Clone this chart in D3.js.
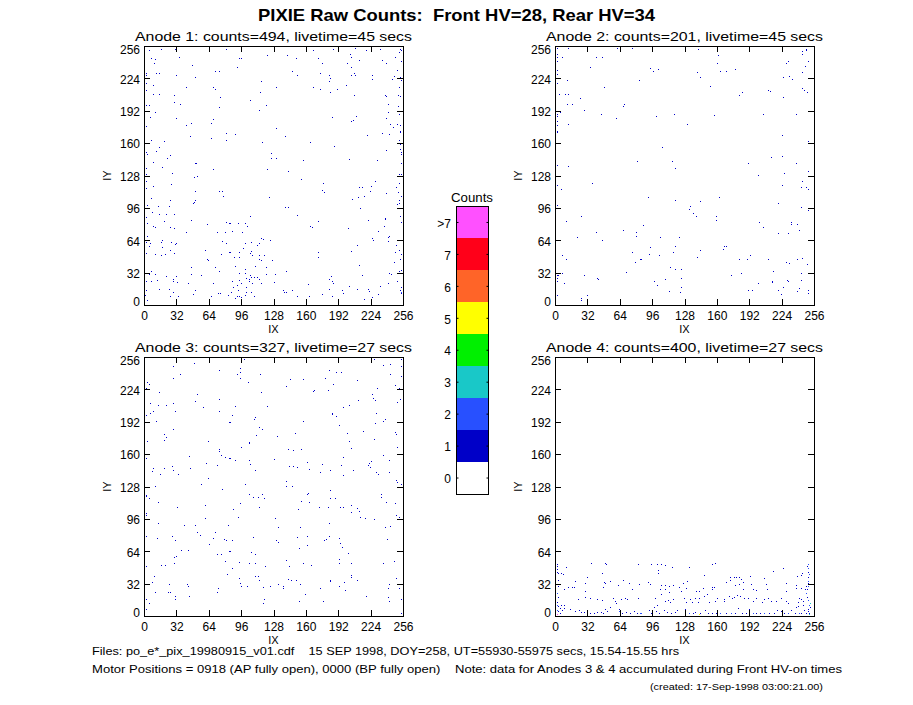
<!DOCTYPE html>
<html><head><meta charset="utf-8">
<script src="https://cdn.jsdelivr.net/npm/d3@7"></script>
<style>
html,body{margin:0;padding:0;background:#fff;}
svg{display:block;}
text{font-family:"Liberation Sans",Arial,sans-serif;fill:#000;}
</style></head><body>
<svg id="chart" width="913" height="705"></svg>
<script>
const mainTitle = "PIXIE Raw Counts:  Front HV=28, Rear HV=34";
const panelTitles = [
  "Anode 1: counts=494, livetime=45 secs",
  "Anode 2: counts=201, livetime=45 secs",
  "Anode 3: counts=327, livetime=27 secs",
  "Anode 4: counts=400, livetime=27 secs"
];
const axisTicks = [0, 32, 64, 96, 128, 160, 192, 224, 256];
const colorLevels = [0, 1, 2, 3, 4, 5, 6, 7, 8];
const colorLabels = ["0", "1", "2", "3", "4", "5", "6", "7", ">7"];
const colorValues = ["#ffffff", "#0000c8", "#2850ff", "#19c8c8", "#00f000", "#ffff00", "#ff6428", "#ff0019", "#ff50ff"];
const footerLines = [
  "Files: po_e*_pix_19980915_v01.cdf    15 SEP 1998, DOY=258, UT=55930-55975 secs, 15.54-15.55 hrs",
  "Motor Positions = 0918 (AP fully open), 0000 (BP fully open)    Note: data for Anodes 3 & 4 accumulated during Front HV-on times",
  "(created: 17-Sep-1998 03:00:21.00)"
];

// events per pixel: [IX, IY] (1 count) or [IX, IY, counts]
const anode1 = [[5,252],[17,253],[31,253],[82,253],[168,252],[187,253],[209,254],[220,252],[234,253],[254,253],[255,252],
[35,245],[7,244],[11,243],[94,244],[96,244],[122,247],[142,247],[151,244],[172,244],[205,245],[213,242],[236,242],[204,248],[249,245],[253,250],[255,241],
[10,239],[48,237],[92,235],[176,239],[201,239],[240,239],[205,235],
[12,229],[2,229],[15,229],[71,231],[75,231],[147,231],[152,227],[174,229],[183,227],[184,224],[205,227],[208,229],[209,227],[226,227],[226,223],[246,223],[248,226],[251,232],[254,225],[255,222],[2,227],[32,227],[51,225],
[116,221],[183,221],[200,217],[168,215],[174,213],[191,213],[131,215],[69,215],[71,213],[42,215],[9,217],[2,219],[253,215],
[2,212],[15,208],[9,208],[30,207],[76,205],[115,210],[184,210],[208,207],[239,207],[240,206],[252,207],[254,206],
[30,200],[36,198],[2,197],[5,197],[105,202],[121,197],[75,195],[114,192],[242,198],[252,196],
[11,190],[6,185],[32,184],[69,183],[186,185],[210,186],[205,181],[207,182],[242,190],[240,184],[253,188],
[42,177],[47,179],[67,179],[2,176],[244,178],[251,178],[254,177],[247,175],[254,171],
[82,170],[90,169],[131,174],[140,167],[221,168],[236,170],[243,169],[46,167],[67,165],[82,163],[7,163],[20,162],[117,161],[165,161],[188,157],[253,163],[254,159],
[15,156],[2,151],[3,149],[12,152],[240,153],[254,154],[255,151],[255,149],[26,148],[126,150],
[23,145],[126,145],[131,145],[158,143],[203,144],[231,143],[51,140],[52,140],[9,141],[255,140],
[18,136],[2,135],[69,134],[122,134],[143,132],[2,129],[28,130],[253,129],[255,129],
[50,126],[53,127],[156,124],[229,122],[2,122],[27,119],[177,120],[213,116],[216,116],[225,117],[250,116],[253,120],[2,115],[9,117],[75,112],[78,112],[51,112],[176,113],[178,111],[224,112],[240,110],[252,111],
[79,107],[124,106],[7,105],[26,103],[51,103],[50,101],[49,100],[206,104],[212,106],[218,107],[253,103],[255,107],[3,98],[25,97],[14,97],[140,96],[143,96],[214,95],[251,99],[253,100],
[8,91],[15,89],[22,89],[30,89],[152,88],[47,84],[2,86],[20,83],[105,87],[82,82],[85,81],[93,81],[100,81],[102,78],[63,80],[172,83],[165,78],[167,77],[222,84],[239,85],[254,87],[255,82],[3,81],[9,78],[11,77],[26,77],[30,76],[202,76],[238,78],
[42,72],[73,72],[81,72],[87,73],[97,72],[232,73],[3,68],[116,66],[118,65],[125,64],[82,61],[78,63],[100,61],[106,62],[112,59],[114,61],[226,66],[227,64],[242,67],[243,68],[242,63],[6,61],[2,62],[18,64],[17,62],[27,62],[32,61],[31,60],[211,59],[250,59],
[5,58],[18,57],[26,54],[30,51],[61,54],[2,51],[11,50],[17,49],[21,50],[77,50],[85,52],[94,52],[98,56],[105,51],[106,53],[114,49],[119,49],[107,49],[172,52],[172,47],[205,53],[249,52],[253,54],[255,50],
[63,45],[64,44],[94,47],[89,47],[114,45],[116,44],[127,44],[121,37],[71,37],[75,33],[47,37],[90,38],[100,35],[110,38],[213,39],[248,42],[254,45],
[7,33],[2,31],[5,30],[11,30],[22,28],[29,25],[32,28],[47,30],[57,29],[94,31],[100,31],[105,29],[106,27],[101,26],[104,25],[109,27],[112,27],[114,25],[121,30],[130,30],[141,33],[185,28],[183,25],[186,23],[187,21],[216,29],[243,31],[245,30],[253,33],[255,34],
[2,23],[7,23],[13,24],[29,23],[33,22],[44,21],[69,21],[87,23],[94,24],[96,21],[104,23],[101,17],[92,19],[88,17],[107,21],[116,21],[129,22],[163,20],[183,15],[196,14],[203,18],[234,18],[242,21],[251,23],[255,17],
[15,15],[25,15],[29,12],[51,14],[49,10],[74,11],[76,11],[86,12],[93,14],[101,12],[106,12],[138,14],[139,12],[141,12],[147,14],[152,8],[176,10],[197,11],[211,15],[222,15],[223,13],[232,10],[254,14],[255,11],[1,9],[26,8],[34,8],[67,8],[84,9],[92,8],[94,8],[96,7],[100,9],[109,8],[90,6],[164,8],[186,8],[218,5],[226,7],[3,4],[2,14],[255,12,2]];

const anode2 = [[2,254],[13,254],[62,254],[77,254],[142,253],[245,251],[249,253],[249,252],[2,248],[245,248],[2,245],[7,245],[41,245],[47,245],[162,247],[2,241],[161,239],[229,239],[231,241],[251,241],[35,235],[94,234],[97,231],[102,233],[164,231],[170,231],[178,233],[248,236],[245,230],[2,232],[2,228],[141,230],[144,225],[3,224],[2,219],[12,222],[84,222],[226,225],[232,226],[235,223],[154,216],[49,215],[211,212],[213,211],[245,214],[247,212],[250,210],[4,208],[10,208],[13,208],[25,204],[182,207],[185,210],[226,205],[12,198],[17,198],[68,196],[69,198],[29,192],[5,190],[2,188],[2,186],[46,188],[61,184],[100,186],[118,188],[158,187],[206,188],[239,188],[2,181],[2,177],[13,178],[131,178],[2,171],[225,168],[251,162],[106,156],[214,146],[225,147],[82,142],[116,142],[119,135],[191,140],[239,140],[2,138],[13,137],[251,132],[227,130],[201,128],[37,120],[245,122],[2,118],[6,114],[225,118],[244,116],[249,116],[251,114],[92,106],[119,103],[144,102],[163,106],[2,98],[134,97],[133,94],[137,90],[140,87],[160,87],[160,84],[221,100],[244,96],[251,93],[26,87],[11,83],[202,82],[206,77],[234,82],[234,80],[240,80],[242,74],[87,79],[68,74],[81,72],[81,68],[41,72],[221,71],[231,71],[22,67],[47,64],[104,67],[123,67],[94,57],[119,58],[144,54],[167,55],[168,58],[170,58],[77,52],[117,52],[93,50],[103,49],[141,47],[7,49],[11,45],[193,49],[190,45],[182,45],[211,45],[229,42],[232,41],[240,45],[245,46],[250,40],[80,42],[85,45],[114,37],[119,35],[125,35],[71,32],[2,29],[3,29],[7,31],[29,29],[2,26],[2,23],[9,21],[42,26],[43,25],[98,23],[101,19],[109,25],[125,26],[125,17],[113,13],[124,12],[174,29],[184,31],[216,33],[215,23],[215,22],[201,21],[230,24],[231,23],[244,31],[244,24],[226,17],[221,14],[242,16],[240,13],[251,14],[251,11],[224,10],[191,14],[195,14],[2,9],[26,6],[26,4],[32,9]];

const anode3 = [[50,250],[99,254],[228,254],[255,254],[29,247],[75,243],[95,245],[95,241],[92,239],[95,235],[115,239],[36,239],[29,235],[237,248],[244,249],[255,247],[244,239],[255,237],[183,243],[190,241],[195,241],[179,235],[158,234],[145,234],[211,233],[187,229],[182,223],[141,227],[103,231],[3,231],[5,229],[2,225],[15,221],[168,222],[169,223],[231,225],[249,228],[253,225],
[53,219],[116,221],[226,219],[227,215],[229,213],[75,214],[51,212],[212,213],[254,214],[251,211],[6,210],[14,208],[22,208],[29,210],[59,206],[90,207],[122,207],[197,206],[203,208],
[2,198],[6,200],[9,202],[31,202],[75,202],[87,198],[85,191],[12,192],[110,196],[109,194],[186,200],[186,199],[190,197],[158,192],[230,200],[229,190],[237,192],[239,194],[193,188],[114,186],[117,184],[111,178],[29,184],[20,179],[22,176],[20,173],[3,172],[64,172],[104,171],[132,177],[150,180],[201,180],[217,182],[228,174],[203,172],[205,166],[249,181],[250,179],[251,167],
[96,167],[75,165],[75,163],[77,159],[81,157],[85,156],[90,154],[45,158],[143,165],[148,164],[156,165],[2,156],[62,151],[73,149],[104,154],[105,150],[110,144],[129,155],[144,148],[148,148],[152,147],[162,152],[164,145],[176,150],[174,142],[184,144],[195,149],[197,157],[197,139],[207,144],[222,149],[223,151],[225,153],[224,147],[237,159],[243,154],[243,142],[230,142],[232,140],[8,143],[9,146],[20,146],[16,140],[28,148],[29,144],[34,140],[46,146],
[57,130],[64,136],[11,128],[141,133],[141,128],[147,128],[100,130],[78,125],[250,134],[255,130],[251,132],[2,119],[2,118],[5,116],[14,112],[33,107],[61,109],[95,111],[104,120],[108,117],[113,117],[117,120],[119,116],[114,107],[88,105],[93,97],[61,96],[156,113],[162,120],[163,121],[164,112],[153,105],[173,107],[182,107],[184,124],[184,116],[189,116],[194,107],[197,107],[205,109],[205,102],[211,106],[213,103],[214,97],[219,96],[228,95],[235,120],[235,117],[240,112],[249,111],[250,99],[253,97],[2,101],[2,99],[130,96],
[133,87],[14,91],[40,89],[51,89],[53,83],[56,80],[71,83],[69,77],[84,89],[80,76],[82,75],[87,75],[65,71],[2,79],[13,77],[28,79],[31,75],[108,78],[131,75],[133,73],[155,87],[152,78],[162,79],[162,70],[154,67],[183,91],[178,75],[180,76],[183,79],[193,77],[194,72],[196,68],[202,62],[239,87],[244,88],[241,76],
[37,65],[44,65],[73,61],[77,61],[85,64],[106,63],[110,61],[30,58],[32,59],[30,52],[17,50],[21,50],[2,49],[81,54],[87,47],[94,53],[104,52],[110,52],[120,49],[141,55],[144,49],[158,52],[166,50],[193,56],[193,52],[205,52],[237,52],[248,54],
[83,41],[110,39],[113,39],[114,35],[94,37],[95,32],[96,29],[102,29],[118,28],[125,29],[133,31],[138,29],[138,27],[143,36],[146,35],[151,35],[155,31],[174,27],[184,35],[184,34],[193,29],[198,33],[205,40],[205,38],[211,35],[199,25],[160,21],[154,14],[177,14],[119,16],[118,12],[74,27],[73,23],[43,31],[44,29],[45,19],[25,31],[24,23],[26,23],[31,19],[31,16],[8,33],[10,39],[11,23],[2,16],[5,12],[2,6],[220,19],[242,27],[243,31],[250,37],[253,27],[242,18],[243,14],[255,16],[255,2]];

const anode4 = [[2,51],[2,49],[2,46],[2,43],[3,42],[6,42],[8,41],[11,48],[36,52],[50,52],[51,51],[83,51],[95,51],[101,51],[105,51],[109,50],[116,48],[133,48],[156,51],[159,52],[216,44],[226,47],
[251,51,2],[250,49],[251,47,2],[251,43],[252,41,2],[251,38],[245,42],[244,40],[102,45],[102,42],[47,42],[32,38],[148,40],[173,38],[177,38],[193,39],[170,33],[173,35],[184,36],[207,37],[229,32],[240,39],
[251,34,2],[251,32],[251,29,2],[250,26],[249,22,2],[250,18],[251,15,2],[249,29],[239,30],[239,27],[244,27],
[3,35],[3,29],[2,22,2],[3,18],[2,13],[20,34],[13,28],[17,28],[19,28],[9,26],[30,32],[30,24],[49,33],[50,32],[55,34],[48,28],[63,30],[68,35],[74,32],[77,26],[84,31],[92,33],[94,31],[105,30],[104,26],[109,30],[109,26],[113,29],[113,23],[117,30],[123,28],[125,24],[127,32],[131,34],[130,27],[140,24],[143,24],[147,27],[156,28],[158,28],[156,26],[148,19],[151,21],
[179,38],[182,38],[178,30],[182,31],[186,33],[186,26],[194,31],[196,26],[199,25],[209,31],[210,26],[229,24],[248,26],
[23,16],[30,18],[35,17],[42,16],[47,15],[58,17],[60,14],[61,12],[66,16],[70,17],[72,16],[83,17],[99,17],[105,21],[101,10],[109,14],[112,15],[114,13],[117,16],[128,17],[130,13],[134,16],[136,13],[139,17],[142,13],[143,17],[153,13],[159,14],[161,17],[168,14],[168,16],[172,19],[175,17],[177,18],[180,20],[183,19],[187,17],[191,17],[196,14],
[199,17],[205,13],[207,16],[211,17],[214,14],[219,14],[224,17],[229,14],[231,12],[242,17],[244,16],[246,14],[241,13],[246,10],[239,8],[241,9],
[2,10,2],[3,9],[5,7],[2,5,2],[3,4],[5,2],[7,5],[9,7],[6,10],[9,10],
[15,6],[20,4],[24,5],[26,3],[29,3],[32,4],[35,2],[39,2],[42,3],[46,3],[48,2],[50,6],[52,4],[55,8],
[64,6],[64,4,2],[65,2],[67,2],[71,3],[75,2],[79,4],[82,2],[85,2,2],[93,5],[95,2],[98,8],[100,4],[103,2],[108,5],[111,3],[115,2],[119,3],[121,5],
[129,6],[133,2,2],[137,2],[139,3],[144,2],[149,5],[152,2],[156,2],[160,2],[161,4],
[164,2,2],[170,2],[174,2,2],[178,2],[181,7],[185,2],[189,2],[192,6],[196,2,2],[199,2],[203,2],[207,2,2],[212,2],[217,2],[220,5],[224,4],[227,2],[231,2,2],[234,5],[238,2],[242,2,2],[244,2],[247,5],[249,2],[251,4],[252,2],
[252,10,2],[253,8],[251,6],[253,12,3],[252,1,3],[2,1,8],[143,1,5]];

const panelData = [anode1, anode2, anode3, anode4];

// ---------------- drawing ----------------
const svg = d3.select("#chart");
const color = d3.scaleOrdinal(colorLevels, colorValues);
const FONT = '"Liberation Sans", Arial, sans-serif';

svg.append("rect").attr("width", 913).attr("height", 705).attr("fill", "#fff");

svg.append("text")
  .attr("x", 456.5).attr("y", 21)
  .attr("text-anchor", "middle")
  .attr("font-size", 17).attr("font-weight", "bold")
  .attr("textLength", 397).attr("lengthAdjust", "spacingAndGlyphs")
  .style("white-space", "pre")
  .text(mainTitle);

const layouts = [
  {x: [144, 403], y: [305, 46]},
  {x: [555, 814], y: [305, 46]},
  {x: [144, 403], y: [616, 357]},
  {x: [555, 814], y: [616, 357]}
];

layouts.forEach((L, i) => {
  const x = d3.scaleLinear().domain([0, 256]).range(L.x);
  const y = d3.scaleLinear().domain([0, 256]).range(L.y);
  const g = svg.append("g");
  const cw = x(1) - x(0), ch = y(0) - y(1);

  g.append("g").selectAll("rect")
    .data(panelData[i])
    .join("rect")
    .attr("x", d => x(d[0]) - cw / 2)
    .attr("y", d => y(d[1]) - ch / 2)
    .attr("width", cw).attr("height", ch)
    .attr("shape-rendering", "crispEdges")
    .attr("fill", d => color(Math.min(d[2] || 1, 8)));

  const styleAxis = sel => {
    sel.attr("font-family", FONT).attr("font-size", 12);
    sel.select(".domain").remove();
    sel.selectAll(".tick line").attr("stroke", "#000").attr("shape-rendering", "crispEdges");
    sel.selectAll(".tick text").attr("fill", "#000");
  };

  g.append("g").attr("transform", `translate(0,${L.y[0]})`)
    .call(d3.axisBottom(x).tickValues(axisTicks).tickSizeInner(-6).tickSizeOuter(0).tickPadding(6).tickFormat(d3.format("d")))
    .call(styleAxis);
  g.append("g").attr("transform", `translate(0,${L.y[1]})`)
    .call(d3.axisTop(x).tickValues(axisTicks).tickSizeInner(-6).tickSizeOuter(0).tickFormat(""))
    .call(styleAxis);
  const yl = g.append("g").attr("transform", `translate(${L.x[0]},0)`)
    .call(d3.axisLeft(y).tickValues(axisTicks).tickSizeInner(-6).tickSizeOuter(0).tickPadding(4).tickFormat(d3.format("d")))
    .call(styleAxis);
  yl.selectAll(".tick text").attr("transform", d => d === 0 ? "translate(0,-3.5)" : d === 256 ? "translate(0,4)" : "translate(0,1)");
  g.append("g").attr("transform", `translate(${L.x[1]},0)`)
    .call(d3.axisRight(y).tickValues(axisTicks).tickSizeInner(-6).tickSizeOuter(0).tickFormat(""))
    .call(styleAxis);

  g.append("rect")
    .attr("x", L.x[0]).attr("y", L.y[1])
    .attr("width", L.x[1] - L.x[0]).attr("height", L.y[0] - L.y[1])
    .attr("fill", "none").attr("stroke", "#000").attr("stroke-width", 1)
    .attr("shape-rendering", "crispEdges");

  const xc = (L.x[0] + L.x[1]) / 2, yc = (L.y[0] + L.y[1]) / 2;
  g.append("text").attr("x", xc).attr("y", L.y[1] - 5)
    .attr("text-anchor", "middle").attr("font-size", 13.5)
    .attr("textLength", 277).attr("lengthAdjust", "spacingAndGlyphs")
    .text(panelTitles[i]);
  g.append("text").attr("x", xc).attr("y", L.y[0] + 28)
    .attr("text-anchor", "middle").attr("font-size", 11).text("IX");
  g.append("text").attr("transform", `translate(${L.x[0] - 33},${yc}) rotate(-90)`)
    .attr("text-anchor", "middle").attr("font-size", 11).text("IY");
});

// colour bar
const cb = d3.scaleBand().domain(colorLevels.slice().reverse()).range([206.5, 494]);
const cbX0 = 456.5, cbX1 = 488.5;
const cbg = svg.append("g");
cbg.selectAll("rect.band").data(colorLevels).join("rect")
  .attr("class", "band")
  .attr("x", cbX0).attr("width", cbX1 - cbX0)
  .attr("y", d => cb(d)).attr("height", cb.bandwidth())
  .attr("fill", d => color(d))
  .attr("shape-rendering", "crispEdges");
cbg.append("rect").attr("x", cbX0).attr("y", 206.5).attr("width", cbX1 - cbX0).attr("height", 494 - 206.5)
  .attr("fill", "none").attr("stroke", "#000").attr("shape-rendering", "crispEdges");
cbg.selectAll("line.tl").data(colorLevels).join("line")
  .attr("x1", cbX0).attr("x2", cbX0 + 2)
  .attr("y1", d => cb(d) + cb.bandwidth() / 2).attr("y2", d => cb(d) + cb.bandwidth() / 2)
  .attr("stroke", "#000");
cbg.selectAll("line.tr").data(colorLevels).join("line")
  .attr("x1", cbX1 - 2).attr("x2", cbX1)
  .attr("y1", d => cb(d) + cb.bandwidth() / 2).attr("y2", d => cb(d) + cb.bandwidth() / 2)
  .attr("stroke", "#000");
cbg.selectAll("text.lab").data(colorLevels).join("text")
  .attr("x", 451).attr("y", d => cb(d) + cb.bandwidth() / 2 + 1)
  .attr("dy", "0.35em").attr("text-anchor", "end").attr("font-size", 12)
  .text(d => colorLabels[d]);
cbg.append("text").attr("x", 472).attr("y", 201.5).attr("text-anchor", "middle")
  .attr("font-size", 12).attr("textLength", 42).attr("lengthAdjust", "spacingAndGlyphs").text("Counts");

// footer
const footerPos = [{x: 92, y: 655, w: 587}, {x: 92, y: 673, w: 750}, {x: 650, y: 690, w: 173}];
svg.selectAll("text.foot").data(footerLines).join("text")
  .attr("class", "foot")
  .attr("x", (d, i) => footerPos[i].x).attr("y", (d, i) => footerPos[i].y)
  .attr("font-size", (d, i) => i === 2 ? 9.5 : 11)
  .attr("textLength", (d, i) => footerPos[i].w).attr("lengthAdjust", "spacingAndGlyphs")
  .style("white-space", "pre")
  .text(d => d);
</script>
</body></html>
